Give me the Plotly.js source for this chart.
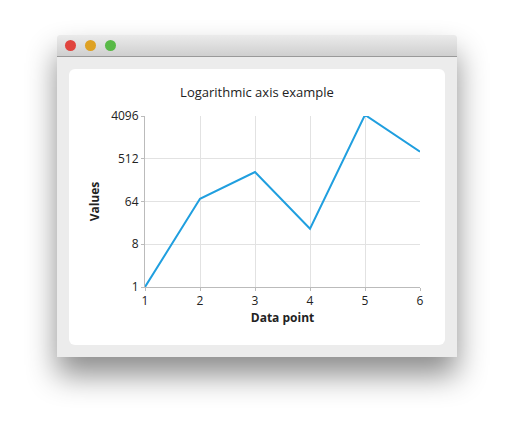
<!DOCTYPE html>
<html>
<head>
<meta charset="utf-8">
<script src="https://cdn.plot.ly/plotly-3.0.1.min.js"></script>
<style>
body { margin: 0; background: #fff; width: 514px; height: 436px; position: relative; font-family: "Open Sans", sans-serif; }
.win { position: absolute; left: 57px; top: 35px; width: 400px; height: 322px; background: #ececec;
	border-radius: 4px 4px 0 0; box-shadow: 0 18px 30px rgba(0,0,0,0.45); overflow: hidden; }
.bar { height: 21px; background: linear-gradient(#ebebeb, #cfcfcf); border-bottom: 1px solid #999; position: relative; }
.dot { position: absolute; top: 5px; width: 11px; height: 11px; border-radius: 50%; }
.card { position: absolute; left: 12px; top: 34px; width: 376px; height: 276px; background: #fff; border-radius: 6px; }
#chart { width: 376px; height: 276px; }
</style>
</head>
<body>
<div class="win">
	<div class="bar">
		<div class="dot" style="left:8px;background:#e0443e"></div>
		<div class="dot" style="left:28px;background:#dea123"></div>
		<div class="dot" style="left:48px;background:#59b947"></div>
	</div>
	<div class="card"><div id="chart"></div></div>
</div>
<script>
const xs = [1, 2, 3, 4, 5, 6]
const ys = [1, 73, 268, 17, 4325, 723]
const yTicks = [1, 8, 64, 512, 4096]

const trace = {
	x: xs, y: ys, type: 'scatter', mode: 'lines',
	line: { color: '#209fdf', width: 2 }
}

const layout = {
	width: 376, height: 276,
	margin: { l: 76, r: 25, t: 47, b: 58 },
	paper_bgcolor: 'rgba(0,0,0,0)', plot_bgcolor: '#fff',
	font: { family: 'Open Sans, sans-serif', size: 12, color: '#222' },
	title: { text: 'Logarithmic axis example', font: { size: 13 }, x: 0.5, xanchor: 'center', y: 0.9, yanchor: 'bottom' },
	showlegend: false,
	xaxis: {
		range: [1, 6], dtick: 1, showgrid: true, gridcolor: '#e2e2e2', zeroline: false,
		showline: true, linecolor: '#bbb', ticks: 'outside', ticklen: 3, tickcolor: '#bbb',
		title: { text: '<b>Data point</b>', font: { size: 12 }, standoff: 2 }
	},
	yaxis: {
		type: 'log', range: [0, Math.log10(4096)], tickvals: yTicks, ticktext: yTicks.map(String),
		showgrid: true, gridcolor: '#e2e2e2', zeroline: false,
		showline: true, linecolor: '#bbb', ticks: 'outside', ticklen: 3, tickcolor: '#bbb',
		title: { text: '<b>Values</b>', font: { size: 12 }, standoff: 8 }
	}
}

Plotly.newPlot('chart', [trace], layout, { displayModeBar: false, staticPlot: true })
</script>
</body>
</html>
